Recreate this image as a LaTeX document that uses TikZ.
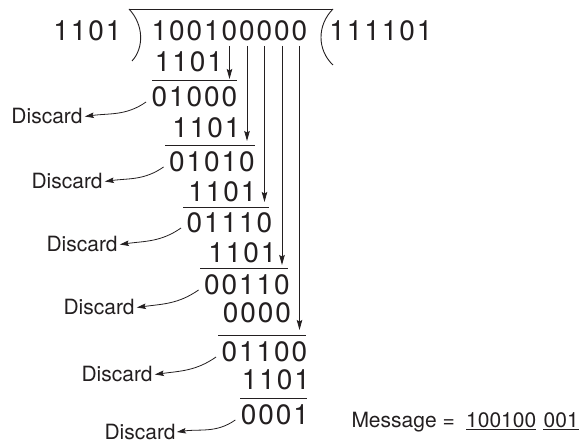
\documentclass[tikz,border=0pt]{standalone}
\usepackage{fontspec}
\setmainfont{TeX Gyre Heros}
\usetikzlibrary{arrows.meta,positioning}

\definecolor{inkgray}{HTML}{231F20}

\newlength\colw
\setlength\colw{17.5pt}
\makeatletter
\newcommand\digs[1]{\@tfor\@dg:=#1\do{\makebox[\colw]{\@dg}}}
\makeatother

\tikzset{
  num/.style={inner sep=0pt, anchor=base, font=\fontsize{28}{28}\selectfont},
  word/.style={inner sep=2pt, anchor=base west, font=\fontsize{21}{21}\selectfont},
  bar/.style={line width=0.9pt},
  bring/.style={line width=0.8pt, -{Stealth[length=10pt,width=5.5pt,inset=1.5pt]}},
  toss/.style={line width=0.8pt, -{Stealth[length=9pt,width=5.5pt,inset=1.5pt]}}
}

\begin{document}
\begin{tikzpicture}[x=1pt,y=1pt,color=inkgray]
\useasboundingbox (0,0) rectangle (579,-443);

% divisor ) dividend ( quotient
\node[num] (dvs) at (87.5,-41) {\digs{1101}};
\node[num] (dvd) at (229.5,-41) {\digs{100100000}};
\node[num] (quo) at (381,-41) {\digs{111101}};
\draw[bar] (129,-9) .. controls (144,-25) and (144,-48) .. (132,-61);
\draw[bar] (129,-9) -- (333,-9);
\draw[bar] (333,-9) .. controls (317,-25) and (317,-50) .. (333,-65);

% subtraction steps
\node[num] (s1) at (189,-72) {\digs{1101}};
\draw[bar] (152,-80) -- (237,-80);
\node[num] (r1) at (194.5,-107) {\digs{01000}};

\node[num] (s2) at (206.5,-138) {\digs{1101}};
\draw[bar] (165,-145) -- (255,-145);
\node[num] (r2) at (212,-172) {\digs{01010}};

\node[num] (s3) at (222.5,-202) {\digs{1101}};
\draw[bar] (183,-207) -- (269,-207);
\node[num] (r3) at (229.5,-233) {\digs{01110}};

\node[num] (s4) at (242.5,-263) {\digs{1101}};
\draw[bar] (200,-268) -- (288,-268);
\node[num] (r4) at (247,-295) {\digs{00110}};

\node[num] (s5) at (257,-323) {\digs{0000}};
\draw[bar] (218,-335) -- (306,-335);
\node[num] (r5) at (264.5,-362) {\digs{01100}};

\node[num] (s6) at (276,-390) {\digs{1101}};
\draw[bar] (240,-398) -- (307,-398);
\node[num] (r6) at (275,-425) {\digs{0001}};

% digits brought down
\coordinate (top) at (0,-46);
\coordinate (t1) at (229.5,-79);
\coordinate (t2) at (247,-141);
\coordinate (t3) at (264.5,-202);
\coordinate (t4) at (282,-265);
\coordinate (t5) at (299.5,-330);
\foreach \t in {t1,t2,t3,t4,t5}
  \draw[bring] (\t |- top) -- (\t);

% discarded bits
\node[word] (d1) at (9.3,-124) {Discard};
\node[word] (d2) at (29.3,-189) {Discard};
\node[word] (d3) at (44.3,-252) {Discard};
\node[word] (d4) at (61.3,-315) {Discard};
\node[word] (d5) at (79.3,-382) {Discard};
\node[word, inner sep=1pt] (d6) at (103.3,-439.5) {Discard};
\foreach \i in {1,...,6}
  \draw[toss] ([shift={(-4.5,5)}]r\i.base west) to[out=215,in=8] (d\i.east);

% result
\node[word, inner sep=0pt] (msg) at (351.3,-428) {Message =};
\node[word, inner sep=0pt, base right=11pt of msg] (m1) {100100};
\node[word, inner sep=0pt, base right=7pt of m1] (m2) {001};
\draw[line width=0.8pt] ([yshift=-1.8pt]m1.base west) -- ([yshift=-1.8pt]m1.base east);
\draw[line width=0.8pt] ([yshift=-1.8pt]m2.base west) -- ([yshift=-1.8pt]m2.base east);

\end{tikzpicture}
\end{document}
